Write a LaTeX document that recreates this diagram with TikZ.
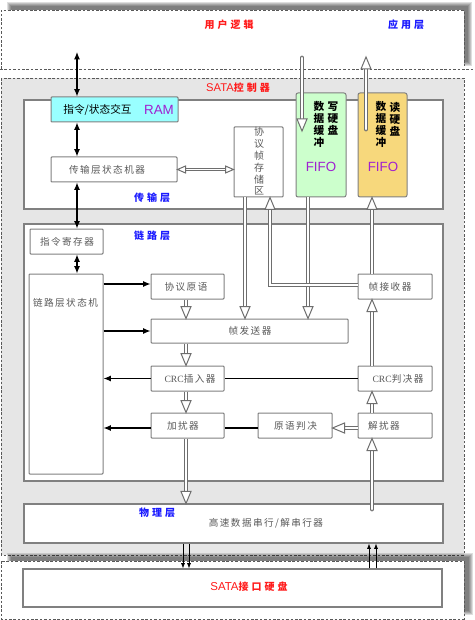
\documentclass[tikz,border=0pt]{standalone}
\usepackage{fontspec}
\setmainfont{Noto Sans CJK SC}
\newfontfamily\cjksp[LetterSpace=15]{Noto Sans CJK SC}
\newfontfamily\cjklb[LetterSpace=30]{Noto Sans CJK SC}
\newfontfamily\cjkcol{Noto Sans CJK SC}
\newfontfamily\arialf{Liberation Sans}
\newfontfamily\serifl{Liberation Serif}
\usetikzlibrary{arrows.meta,calc,fit}
\definecolor{bggray}{HTML}{E6E6E6}
\definecolor{txtgray}{HTML}{5A5A5A}
\definecolor{lblue}{HTML}{1A1AFF}
\definecolor{lred}{HTML}{FF1A1A}
\definecolor{purp}{HTML}{A020D0}
\definecolor{cyanfill}{HTML}{99FFFF}
\definecolor{greenfill}{HTML}{CCFFCC}
\definecolor{yellowfill}{HTML}{F7D87C}
\definecolor{holgray}{HTML}{6E6E6E}
\tikzset{
 layer/.style={draw=black!50, line width=0.8pt, fill=white, inner sep=0pt},
 blockbox/.style={draw=black!50, line width=0.75pt, fill=white, inner sep=0pt, rounded corners=0.6pt},
 txt/.style={text=txtgray, font=\cjksp\fontsize{7.2}{8.6}\selectfont, inner sep=0pt},
 lbl/.style={font=\cjklb\bfseries\fontsize{7.5}{9}\selectfont, inner sep=0pt},
 dsh/.style={draw=black!65, line width=0.6pt, dash pattern=on 2pt off 1.3pt},
 dbl/.style={draw=holgray, line width=0.75pt, double=white, double distance=2.1pt},
 holh/.style={draw=holgray, fill=white, line width=0.75pt, line join=miter},
 blk/.style={line width=0.9pt, -{Latex[length=5.5pt,width=4.5pt]}},
 blkb/.style={line width=0.9pt, {Latex[length=5.5pt,width=4.5pt]}-{Latex[length=5.5pt,width=4.5pt]}},
 thinarr/.style={line width=0.5pt, -{Latex[length=4pt,width=3pt]}},
 purptxt/.style={text=purp, font=\arialf\fontsize{10}{12}\selectfont, inner sep=0pt},
 colb/.style={font=\cjkcol\bfseries\fontsize{8}{9}\selectfont, align=center, inner sep=0pt},
 shade/.style={fill=black, opacity=0.13},
}
\newcommand\holhead[3][9pt]{%
  \draw[holh] let \p1=(#2), \p2=(#3), \n1={atan2(\y2-\y1,\x2-\x1)} in
    [shift={(\p2)}, rotate=\n1] (0pt,0pt) -- (-#1,3.75pt) -- (-#1,-3.75pt) -- cycle;}
\newcommand\smallhead[2]{%
  \draw[holh] let \p1=(#1), \p2=(#2), \n1={atan2(\y2-\y1,\x2-\x1)} in
    [shift={(\p2)}, rotate=\n1] (0pt,0pt) -- (-6pt,2.6pt) -- (-6pt,-2.6pt) -- cycle;}
\newcommand\hollow[3][]{%
  \draw[dbl,#1] (#2) -- ($(#3)!8.5pt!(#2)$);
  \holhead{#2}{#3}}
\newcommand\hollowtwo[2]{%
  \draw[dbl, double distance=1.4pt] ($(#1)!5.5pt!(#2)$) -- ($(#2)!5.5pt!(#1)$);
  \smallhead{#2}{#1}\smallhead{#1}{#2}}
\begin{document}
\begin{tikzpicture}[x=0.75pt,y=-0.75pt]
\useasboundingbox (0,0) rectangle (474,620);
% ---------- user logic region (soft shadow up-right)
\foreach \i in {0,1,2,3,4}{
  \fill[shade] ({7+\i},{2+\i}) rectangle ({472-\i},{66-\i});
}
\fill[white] (1,10) rectangle (464,69);
\draw[dsh] (1,69) -- (1,10) -- (464,10) -- (464,66);
\draw[dsh] (0,69) -- (474,69);
\node[lbl, text=lred] (ulab) at (229,25) {用户逻辑};
\node[lbl, text=lblue] (alab) at (406,25) {应用层};
% ---------- SATA controller
\draw[dsh, fill=bggray] (1,78) rectangle (464,555);
\node[inner sep=0pt, text=lred] (sclab) at (238,88) {\arialf\fontsize{8.4}{10}\selectfont SATA\cjklb\bfseries\fontsize{7.5}{9}\selectfont 控制器};
% ---------- disk region (soft shadow up-right)
\foreach \i in {0,1,2,3,4}{
  \fill[shade] ({7+\i},{553+\i}) rectangle ({473-\i},{615-\i});
}
\fill[white] (1,561) rectangle (464,619);
\draw[dsh] (1,561) rectangle (464,619);
\node[layer, fit={(23,569) (442,607)}] (disk) {};
\node[inner sep=0pt, text=lred] (disklab) at (249,587) {\arialf\fontsize{8.6}{10}\selectfont SATA\cjklb\bfseries\fontsize{7.5}{9}\selectfont 接口硬盘};
% ---------- layers
\node[layer, fit={(24,100) (443,209)}] (tl) {};
\node[layer, fit={(24,224) (443,481)}] (ll) {};
\node[layer, fit={(24,504) (443,543)}] (pl) {};
\node[lbl, text=lblue] (tllab) at (152,198) {传输层};
\node[lbl, text=lblue] (lllab) at (152,236) {链路层};
\node[lbl, text=lblue] (pllab) at (157,513) {物理层};
\node[txt] (pltxt) at (266,523) {高速数据串行/解串行器};
% ---------- transport blocks
\node[blockbox, fill=cyanfill, fit={(51,97) (178,122)}] (ram) {};
\node[inner sep=0pt, font=\cjkcol\fontsize{8}{9}\selectfont] (ramtxt) at (97.5,109.5) {指令/状态交互};
\node[purptxt] (ramlab) at (159,110) {RAM};
\node[blockbox, fit={(51,157) (177,182)}] (tsm) {};
\node[txt] (tsmtxt) at (107,169.5) {传输层状态机器};
\node[blockbox, fit={(234,127) (283,197)}] (ps) {};
\node[txt, align=center, font=\cjkcol\fontsize{7.5}{8.85}\selectfont] (pstxt) at (259,161.5) {协\\议\\帧\\存\\储\\区};
\node[blockbox, fill=greenfill, rounded corners=1.5pt, fit={(296,93) (346,197)}] (wf) {};
\node[colb] (wf1) at (333,119) {写\\硬\\盘};
\node[colb] (wf2) at (319,124.5) {数\\据\\缓\\冲};
\node[purptxt] (wflab) at (321,167) {FIFO};
\node[blockbox, fill=yellowfill, rounded corners=1.5pt, fit={(358,93) (407,197)}] (rf) {};
\node[colb] (rf1) at (395,119) {读\\硬\\盘};
\node[colb] (rf2) at (381,124.5) {数\\据\\缓\\冲};
\node[purptxt] (rflab) at (383,167) {FIFO};
% ---------- link blocks
\node[blockbox, fit={(30,229) (103,254)}] (ir) {};
\node[txt] (irtxt) at (67,241.5) {指令寄存器};
\node[blockbox, fit={(29,274) (103,474)}] (lsm) {};
\node[txt] (lsmtxt) at (65.5,303) {链路层状态机};
\node[blockbox, fit={(151,274) (224,299)}] (pp) {};
\node[txt] (pptxt) at (186,286.5) {协议原语};
\node[blockbox, fit={(151,319) (348,343)}] (fs) {};
\node[txt] (fstxt) at (250,331) {帧发送器};
\node[blockbox, fit={(151,366) (224,391)}] (ci) {};
\node[txt] (citxt) at (190,378.5) {{\serifl CRC}插入器};
\node[blockbox, fit={(151,413) (224,438)}] (sc) {};
\node[txt] (sctxt) at (183,425.5) {加扰器};
\node[blockbox, fit={(258,413) (332,438)}] (pj) {};
\node[txt] (pjtxt) at (295.5,425.5) {原语判决};
\node[blockbox, fit={(358,413) (432,438)}] (ds) {};
\node[txt] (dstxt) at (384,425.5) {解扰器};
\node[blockbox, fit={(358,366) (432,391)}] (cc) {};
\node[txt] (cctxt) at (398,378.5) {{\serifl CRC}判决器};
\node[blockbox, fit={(358,274) (432,299)}] (fr) {};
\node[txt] (frtxt) at (390,286.5) {帧接收器};
% ---------- helper coordinates
\coordinate (c77) at (77,0);
\coordinate (c183) at (183,0);
\coordinate (c189) at (189,0);
\coordinate (c186) at (186,0);
\coordinate (c245) at (245,0);
\coordinate (c270) at (270,0);
\coordinate (c308) at (308,0);
\coordinate (c369) at (369,0);
\coordinate (c372) at (372,0);
\coordinate (c376) at (376,0);
\coordinate (usr) at (77,52);
\coordinate (wfs) at (302,58);
\coordinate (wft) at (302,131);
\coordinate (rfs) at (366,129);
\coordinate (rft) at (366,57);
\coordinate (phs) at (372,509);
\coordinate (psw) at (ps.west |- tsm.east);
\coordinate (ppw) at ($(pp.west)+(0,-2.5)$);
\coordinate (scw) at ($(sc.west)+(0,2.5)$);
\coordinate (sce) at ($(sc.east)+(0,2.5)$);
\coordinate (pjw) at ($(pj.west)+(0,2.5)$);
\coordinate (pje) at ($(pj.east)+(0,2.5)$);
\coordinate (dsw) at ($(ds.west)+(0,2.5)$);
\coordinate (frw) at ($(fr.west)+(0,-1.5)$);
\coordinate (psup) at (ps.south -| c270);
\coordinate (psupb) at ($(psup)+(0,11)$);
\coordinate (psupc) at ($(psup)+(0,20)$);
% ---------- hollow data-path arrows
\hollow[line cap=round]{wfs}{wft}
\hollow[line cap=round]{rfs}{rft}
\hollowtwo{tsm.east}{psw}
\hollow{ps.south -| c245}{fs.north -| c245}
\hollow{wf.south -| c308}{fs.north -| c308}
\draw[dbl] (frw) -| (psupb);
\holhead{psupc}{psup}
\hollow{fr.north -| c372}{rf.south -| c372}
\hollow{cc.north -| c372}{fr.south -| c372}
\hollow{ds.north -| c372}{cc.south -| c372}
\hollow{dsw}{pje}
\hollow{pp.south -| c186}{fs.north -| c186}
\hollow{fs.south -| c186}{ci.north -| c186}
\hollow{ci.south -| c186}{sc.north -| c186}
\hollow{sc.south -| c186}{pl.north -| c186}
\hollow[line cap=round]{phs}{ds.south -| c372}
% ---------- black control arrows
\draw[blkb] (usr) -- (ram.north -| c77);
\draw[blkb] (ram.south -| c77) -- (tsm.north -| c77);
\draw[blkb] (tsm.south -| c77) -- (ir.north -| c77);
\draw[blkb] (ir.south -| c77) -- (lsm.north -| c77);
\draw[blk] (lsm.east |- ppw) -- (ppw);
\draw[blk] (lsm.east |- fs.west) -- (fs.west);
\draw[blk] (ci.west) -- (lsm.east |- ci.west);
\draw[blk] (scw) -- (lsm.east |- scw);
\draw[line width=0.8pt] (cc.west) -- (ci.east);
\draw[line width=0.8pt] (pjw) -- (sce);
% ---------- phys <-> disk
\draw[thinarr] (pl.south -| c183) -- (disk.north -| c183);
\draw[thinarr] (pl.south -| c189) -- (disk.north -| c189);
\draw[thinarr] (disk.north -| c369) -- (pl.south -| c369);
\draw[thinarr] (disk.north -| c376) -- (pl.south -| c376);
\end{tikzpicture}
\end{document}
